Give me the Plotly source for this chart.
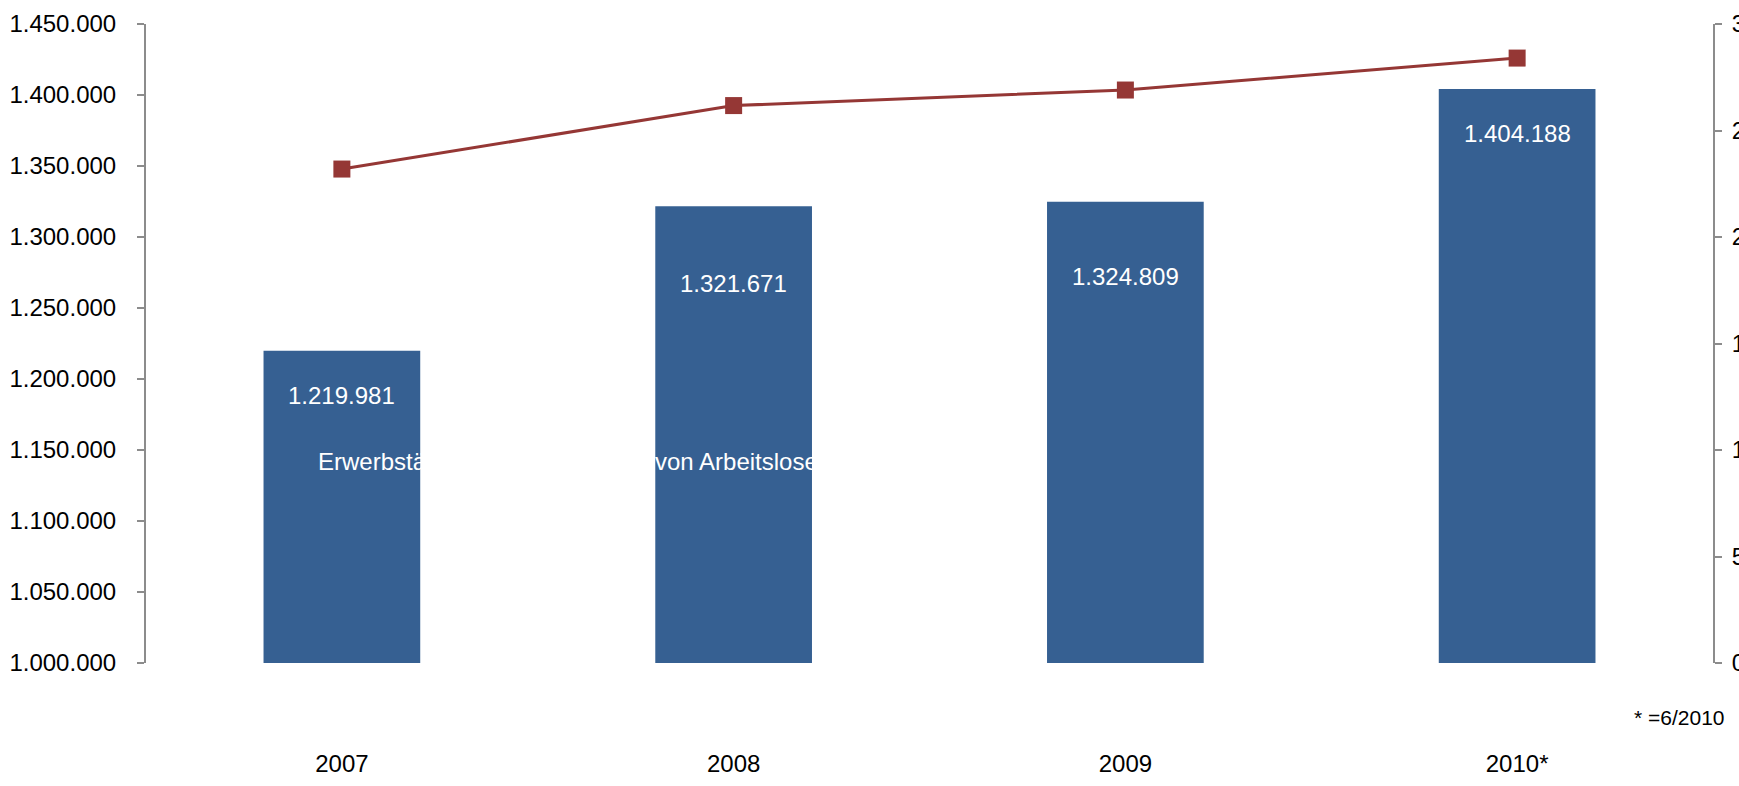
import plotly.graph_objects as go

# Jahre und Werte
years = ["2007", "2008", "2009", "2010*"]
erwerbstaetige = [1219981, 1321671, 1324809, 1404188]
arbeitslose = [231900, 261700, 269000, 284000]

left_ticks = [1000000, 1050000, 1100000, 1150000, 1200000, 1250000, 1300000, 1350000, 1400000, 1450000]
right_ticks = [0, 50000, 100000, 150000, 200000, 250000, 300000]

BAR_COLOR = "#366092"
LINE_COLOR = "#953735"
AXIS_COLOR = "#8c8c8c"
FONT = "Liberation Sans Narrow, Arial Narrow, Liberation Sans, Arial, sans-serif"
FS = 24
label_drop = [45, 77, 75, 44]  # Abstand der Wertbeschriftung unter der Balkenoberkante (px)

fig = go.Figure()

fig.add_trace(go.Bar(
    x=years, y=erwerbstaetige, marker_color=BAR_COLOR, marker_line_width=0,
    name="Erwerbstätige", yaxis="y", hoverinfo="skip",
))

fig.add_trace(go.Scatter(
    x=years, y=arbeitslose, mode="lines+markers", yaxis="y2",
    line=dict(color=LINE_COLOR, width=3),
    marker=dict(symbol="square", size=17, color=LINE_COLOR),
    name="Anzahl von Arbeitslosen", hoverinfo="skip",
))

annotations = []
# Wertbeschriftungen der Balken (x als Kategorie-Index)
for i, (v, d) in enumerate(zip(erwerbstaetige, label_drop)):
    annotations.append(dict(
        x=i, y=v, xref="x", yref="y", yanchor="middle", yshift=-d,
        text=f"{v:,}".replace(",", "."), showarrow=False,
        font=dict(family=FONT, size=FS, color="white"),
    ))

# Legendentexte in Weiß (nur über den Balken sichtbar)
annotations.append(dict(
    x=0.1085, y=0.3146, xref="paper", yref="paper", xanchor="left", yanchor="middle",
    text="Erwerbstätige", showarrow=False, font=dict(family=FONT, size=FS, color="white"),
))
annotations.append(dict(
    x=0.3235, y=0.3146, xref="paper", yref="paper", xanchor="left", yanchor="middle",
    text="von Arbeitslosen", showarrow=False, font=dict(family=FONT, size=FS, color="white"),
))

annotations.append(dict(
    x=1.009, y=-0.086, xref="paper", yref="paper", xanchor="right", yanchor="middle",
    text="* =6/2010", showarrow=False, font=dict(family=FONT, size=21, color="black"),
))

fig.update_layout(
    width=1739, height=786,
    margin=dict(l=146, r=26, t=24, b=123, autoexpand=False),
    paper_bgcolor="white", plot_bgcolor="white",
    separators=",.",
    showlegend=False,
    bargap=0.6,
    font=dict(family=FONT, size=FS, color="black"),
    xaxis=dict(
        type="category", categoryorder="array", categoryarray=years,
        range=[-0.5, len(years) - 0.5], autorange=False, automargin=False,
        showline=False, showgrid=False, ticks="", zeroline=False,
        ticklabelstandoff=84,
        tickfont=dict(family=FONT, size=FS, color="black"),
    ),
    yaxis=dict(
        range=[1000000, 1450000], tickvals=left_ticks, tickformat=",d",
        automargin=False,
        showline=True, linecolor=AXIS_COLOR, linewidth=2,
        ticks="outside", ticklen=7, tickwidth=2, tickcolor=AXIS_COLOR,
        showgrid=False, zeroline=False, ticklabelstandoff=16,
        tickfont=dict(family=FONT, size=FS, color="black"),
    ),
    yaxis2=dict(
        range=[0, 300000], tickvals=right_ticks, tickformat=",d",
        overlaying="y", side="right", automargin=False,
        showline=True, linecolor=AXIS_COLOR, linewidth=2,
        ticks="outside", ticklen=7, tickwidth=2, tickcolor=AXIS_COLOR,
        showgrid=False, zeroline=False, ticklabelstandoff=5,
        tickfont=dict(family=FONT, size=FS, color="black"),
    ),
    annotations=annotations,
)

fig.write_html("out.html")
